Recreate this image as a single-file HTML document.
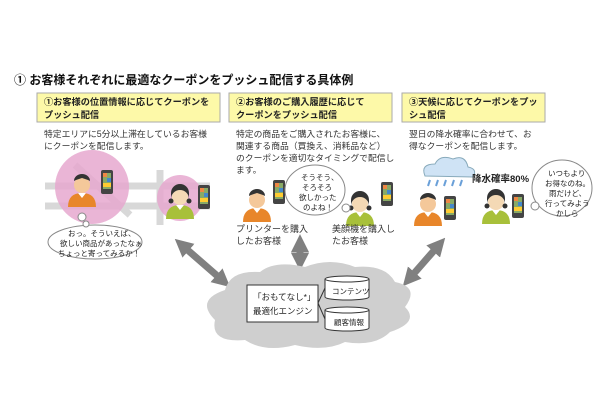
<!DOCTYPE html>
<html><head><meta charset="utf-8"><style>
html,body{margin:0;padding:0;background:#fff;}
svg text{font-family:"Liberation Sans","Noto Sans CJK JP",sans-serif;}
</style></head><body>
<svg width="600" height="400" viewBox="0 0 600 400" xmlns="http://www.w3.org/2000/svg">
<defs>
<g id="man"><circle cx="0" cy="-8" r="8" fill="#f4c89a"/><path d="M-8,-12 a8,7 0 0 1 16,0 l-2,-1 -6,-2 -6,2z" fill="#333"/><path d="M-14,14 q0,-14 14,-14 q14,0 14,14z" fill="#e8862a"/><path d="M-4,0 l4,5 4,-5z" fill="#fff"/></g>
<g id="woman"><circle cx="0" cy="-8" r="8" fill="#f4d9b5"/><path d="M-9,-6 a9,9 0 0 1 18,0 l0,-6 a9,9 0 0 0 -18,0z" fill="#333"/><circle cx="-9" cy="-4" r="2.5" fill="#333"/><circle cx="9" cy="-4" r="2.5" fill="#333"/><path d="M-14,14 q0,-14 14,-14 q14,0 14,14z" fill="#a8c03a"/><path d="M-4,0 l4,5 4,-5z" fill="#fff"/></g>
<g id="phone"><rect x="0" y="0" width="12" height="24" rx="2" fill="#444"/><rect x="2" y="3" width="8" height="16" fill="#8a6"/><rect x="2" y="3" width="4" height="4" fill="#e84"/><rect x="6" y="8" width="4" height="4" fill="#48c"/><rect x="2" y="13" width="8" height="4" fill="#fc3"/></g>
<marker id="ah" viewBox="0 0 10 10" refX="4" refY="5" markerWidth="2.6" markerHeight="2.6" orient="auto-start-reverse"><path d="M0,0 L10,5 L0,10z" fill="#808080"/></marker>
</defs>
<text x="14" y="84" font-size="12" font-weight="bold" fill="#111">①  お客様それぞれに最適なクーポンをプッシュ配信する具体例</text>
<rect x="37" y="93" width="183" height="29" fill="#fdf9a8" stroke="#aaa"/>
<rect x="229" y="93" width="163" height="29" fill="#fdf9a8" stroke="#aaa"/>
<rect x="402" y="93" width="143" height="29" fill="#fdf9a8" stroke="#aaa"/>
<g font-size="9.2" font-weight="bold" fill="#222">
<text x="44" y="105">①お客様の位置情報に応じてクーポンを</text><text x="44" y="118">プッシュ配信</text>
<text x="236" y="105">②お客様のご購入履歴に応じて</text><text x="236" y="118">クーポンをプッシュ配信</text>
<text x="409" y="105">③天候に応じてクーポンをプッ</text><text x="409" y="118">シュ配信</text>
</g>
<g font-size="8.8" fill="#333">
<text x="44" y="137">特定エリアに5分以上滞在しているお客様</text><text x="44" y="149">にクーポンを配信します。</text>
<text x="236" y="137">特定の商品をご購入されたお客様に、</text><text x="236" y="149">関連する商品（買換え、消耗品など）</text><text x="236" y="161">のクーポンを適切なタイミングで配信し</text><text x="236" y="173">ます。</text>
<text x="409" y="137">翌日の降水確率に合わせて、お</text><text x="409" y="149">得なクーポンを配信します。</text>
</g>
<g stroke="#d8d8d8" stroke-width="7" fill="none"><line x1="45" y1="186" x2="210" y2="186"/><line x1="45" y1="206" x2="210" y2="206"/><line x1="160" y1="170" x2="160" y2="225"/><line x1="75" y1="165" x2="130" y2="215"/></g>
<circle cx="92" cy="187" r="37" fill="#e6a8cf" opacity="0.85"/>
<circle cx="180" cy="198" r="23" fill="#e6a8cf" opacity="0.85"/>
<use href="#man" x="82" y="193"/><use href="#phone" x="101" y="170"/>
<use href="#woman" x="180" y="205"/><use href="#phone" x="198" y="185"/>
<ellipse cx="95" cy="242" rx="47" ry="17" fill="#fff" stroke="#888"/>
<circle cx="82" cy="217" r="4" fill="#fff" stroke="#888"/><circle cx="86" cy="224" r="3" fill="#fff" stroke="#888"/>
<g font-size="7.5" fill="#222"><text x="68" y="236">おっ。そういえば、</text><text x="60" y="246">欲しい商品があったなぁ</text><text x="58" y="256">ちょっと寄ってみるか！</text></g>
<use href="#man" x="257" y="208"/><use href="#phone" x="273" y="180"/>
<use href="#woman" x="360" y="212"/><use href="#phone" x="381" y="182"/>
<ellipse cx="315" cy="190" rx="30" ry="25" fill="#fff" stroke="#888"/>
<circle cx="346" cy="208" r="4" fill="#fff" stroke="#888"/>
<g font-size="7.5" fill="#222"><text x="301" y="180">そうそう、</text><text x="302" y="190">そろそろ</text><text x="299" y="200">欲しかった</text><text x="303" y="210">のよね！</text></g>
<g font-size="9" fill="#333"><text x="236" y="232">プリンターを購入</text><text x="236" y="244">したお客様</text><text x="332" y="232">美顔機を購入し</text><text x="332" y="244">たお客様</text></g>
<path d="M425,176 q-5,-12 10,-12 q5,-10 18,-5 q12,-5 15,8 q10,2 5,10z" fill="#cfe3f5" stroke="#8ab"/>
<g stroke="#6aa0d8" stroke-width="2"><line x1="430" y1="180" x2="428" y2="186"/><line x1="438" y1="180" x2="436" y2="186"/><line x1="446" y1="180" x2="444" y2="186"/><line x1="454" y1="180" x2="452" y2="186"/><line x1="462" y1="180" x2="460" y2="186"/></g>
<text x="472" y="182" font-size="9.5" font-weight="bold" fill="#222">降水確率80%</text>
<use href="#man" x="428" y="212"/><use href="#phone" x="444" y="196"/>
<use href="#woman" x="496" y="210"/><use href="#phone" x="512" y="194"/>
<ellipse cx="562" cy="188" rx="30" ry="28" fill="#fff" stroke="#888"/>
<circle cx="535" cy="206" r="4" fill="#fff" stroke="#888"/>
<g font-size="7.5" fill="#222"><text x="548" y="176">いつもより</text><text x="545" y="186">お得なのね。</text><text x="549" y="196">雨だけど、</text><text x="545" y="206">行ってみよう</text><text x="556" y="216">かしら</text></g>
<g stroke="#808080" stroke-width="7" marker-start="url(#ah)" marker-end="url(#ah)"><line x1="183" y1="246" x2="222" y2="280"/><line x1="300" y1="245" x2="300" y2="260"/><line x1="438" y1="246" x2="410" y2="278"/></g>
<path d="M215,320 q-20,-20 10,-30 q5,-20 35,-18 q15,-12 45,-5 q25,-10 50,0 q30,-3 40,15 q25,5 10,25 q15,15 -15,25 q-15,15 -45,10 q-20,10 -50,3 q-30,8 -50,-5 q-35,3 -30,-20z" fill="#cfcfcf"/>
<rect x="247" y="285" width="71" height="37" fill="#fff" stroke="#333"/>
<g font-size="8.5" fill="#222"><text x="253" y="300">「おもてなし*」</text><text x="253" y="314">最適化エンジン</text></g>
<path d="M318,303 l7,-15 M318,303 l7,16" stroke="#333" fill="none"/>
<g fill="#fff" stroke="#333"><path d="M325,279 v18 a22,3 0 0 0 44,0 v-18"/><ellipse cx="347" cy="279" rx="22" ry="3"/><path d="M325,310 v18 a22,3 0 0 0 44,0 v-18"/><ellipse cx="347" cy="310" rx="22" ry="3"/></g>
<g font-size="7.5" fill="#222"><text x="332" y="294">コンテンツ</text><text x="334" y="325">顧客情報</text></g>
</svg>
</body></html>
